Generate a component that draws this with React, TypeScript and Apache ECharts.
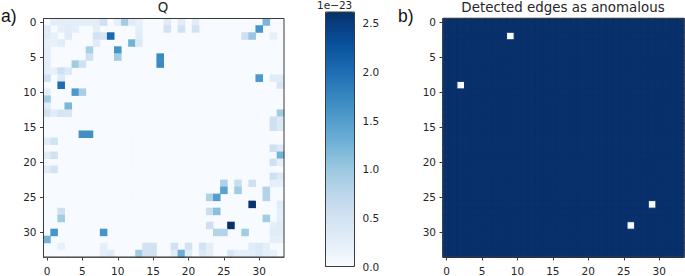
import React, { useEffect, useRef } from "react";
import * as echarts from "echarts";

const SIZE = 34;
const indices = Array.from({ length: SIZE }, (_, i) => String(i));
const colorbarTicks = [0, 0.5, 1, 1.5, 2, 2.5];
const colorbarMax = 2.615;
const blues = ["#f7fbff", "#deebf7", "#c6dbef", "#9ecae1", "#6baed6", "#4292c6", "#2171b5", "#08519c", "#08306b"];

// [row, [col, value, col, value, ...]]
const qRows: [number, number[]][] = [
  [0, [1, .28, 2, .28, 3, .28, 4, .28, 5, .28, 6, .28, 7, .28, 8, .55, 10, .25, 11, .95, 12, .3, 13, .2, 17, .3, 19, .3, 21, .3, 31, 1.2]],
  [1, [0, .3, 2, .25, 3, .3, 4, .25, 7, .25, 13, .25, 17, .5, 19, .5, 21, .5, 30, 1.6]],
  [2, [0, .3, 1, .2, 3, .3, 7, .5, 8, .45, 9, 2.05, 13, .3, 28, .55, 29, 1.0, 32, .22]],
  [3, [0, .2, 1, .2, 2, .3, 7, .3, 12, 1.25, 13, .35]],
  [4, [0, .25, 6, .9, 10, 1.6]],
  [5, [0, .25, 6, .55, 10, .95, 16, 1.7]],
  [6, [0, .25, 4, .95, 5, .55, 16, 1.7]],
  [7, [0, .25, 1, .2, 2, .55, 3, .35]],
  [8, [0, .55, 2, .35, 30, 1.55, 32, .3, 33, .3]],
  [9, [2, 2.0, 33, .4]],
  [10, [0, .25, 4, 1.55, 5, .9]],
  [11, [0, .95]],
  [12, [0, .3, 3, 1.2]],
  [13, [0, .5, 1, .3, 2, .45, 3, .4, 33, .95]],
  [14, [32, .55, 33, .35]],
  [15, [32, .55, 33, .35]],
  [16, [5, 1.65, 6, 1.65]],
  [17, [0, .3, 1, .5]],
  [18, [32, .55, 33, .35]],
  [19, [0, .3, 1, .5, 33, 1.25]],
  [20, [32, .55, 33, .2]],
  [21, [0, .3, 1, .5]],
  [22, [32, .55, 33, .35]],
  [23, [25, .85, 27, .6, 29, .55, 32, .25, 33, .25]],
  [24, [25, 1.45, 27, .95, 31, .8]],
  [25, [23, .85, 24, 1.5, 31, .8]],
  [26, [29, 2.6, 33, .3]],
  [27, [2, .55, 23, .6, 24, 1.1, 33, .25]],
  [28, [2, .95, 31, .95, 33, .25]],
  [29, [23, .55, 26, 2.6, 32, .25, 33, .3]],
  [30, [1, 1.6, 8, 1.6, 24, .8, 25, .8, 28, .95, 32, .3, 33, .3]],
  [31, [0, 1.25, 32, .22, 33, .22]],
  [32, [2, .2, 8, .25, 14, .5, 15, .5, 18, .5, 20, .5, 22, .5, 23, .25, 29, .3, 30, .35, 31, .25]],
  [33, [8, .25, 9, .3, 13, .95, 14, .5, 15, .5, 18, .3, 19, 1.3, 20, .3, 22, .35, 23, .25, 26, .4, 27, .25, 28, .25, 29, .25, 30, .35, 31, .25, 32, .2]],
];

// [row, col]
const anomalous: [number, number][] = [[2, 9], [9, 2], [26, 29], [29, 26]];

function buildQ() {
  const zeros: number[][] = [];
  const filled: number[][] = [];
  const m = new Map<string, number>();
  qRows.forEach(([r, cells]) => {
    for (let i = 0; i < cells.length; i += 2) m.set(r + "," + cells[i], cells[i + 1]);
  });
  for (let r = 0; r < SIZE; r++)
    for (let c = 0; c < SIZE; c++) {
      const v = m.get(r + "," + c);
      if (v === undefined) zeros.push([c, r, 0]);
      else filled.push([c, r, v]);
    }
  return [...zeros, ...filled];
}

function buildDetected() {
  const bg: number[][] = [];
  for (let r = 0; r < SIZE; r++)
    for (let c = 0; c < SIZE; c++) {
      if (!anomalous.some(([ar, ac]) => ar === r && ac === c)) bg.push([c, r, 0]);
    }
  return [...bg, ...anomalous.map(([r, c]) => [c, r, 1])];
}

const FONT = "DejaVu Sans";
const INK = "#262626";
const SPINE = "#3a3a3a";
const LABEL_SIZE = 10.5;

const catX = (gridIndex: number) => ({
  type: "category" as const,
  gridIndex,
  data: indices,
  position: "bottom" as const,
  splitLine: { show: false },
  axisLine: { show: true, onZero: false, lineStyle: { color: SPINE, width: 1 } },
  axisTick: { show: true, interval: 4, alignWithLabel: true, length: 3.5, lineStyle: { color: SPINE } },
  axisLabel: { interval: 4, margin: 8, fontFamily: FONT, fontSize: LABEL_SIZE, color: INK },
});

const catY = (gridIndex: number) => ({
  type: "category" as const,
  gridIndex,
  data: indices,
  inverse: true,
  position: "left" as const,
  splitLine: { show: false },
  axisLine: { show: true, onZero: false, lineStyle: { color: SPINE, width: 1 } },
  axisTick: { show: true, interval: 4, alignWithLabel: true, length: 3.5, lineStyle: { color: SPINE } },
  axisLabel: { interval: 4, margin: 7, fontFamily: FONT, fontSize: LABEL_SIZE, color: INK },
});

export default function App() {
  const ref = useRef<HTMLDivElement>(null);
  useEffect(() => {
    const chart = echarts.init(ref.current!, null, { renderer: "svg" });
    chart.setOption({
      animation: false,
      backgroundColor: "#ffffff",
      title: [
        { text: "Q", left: 163, top: 1, padding: 0, textAlign: "center", textStyle: { fontFamily: FONT, fontSize: 13.4, fontWeight: "normal", color: INK } },
        { text: "Detected edges as anomalous", left: 563, top: 1, padding: 0, textAlign: "center", textStyle: { fontFamily: FONT, fontSize: 13.4, fontWeight: "normal", color: INK } },
      ],
      grid: [
        { left: 43.5, top: 18.5, width: 240.5, height: 240, show: true, borderColor: SPINE, borderWidth: 1, backgroundColor: "transparent", z: 6 },
        { left: 443, top: 18.5, width: 241, height: 240, show: true, borderColor: SPINE, borderWidth: 1, backgroundColor: "transparent", z: 6 },
        { left: 325.5, top: 12, width: 29, height: 254.5, show: true, borderColor: SPINE, borderWidth: 1, backgroundColor: "transparent", z: 6 },
      ],
      xAxis: [
        catX(0),
        catX(1),
        { type: "value", gridIndex: 2, min: 0, max: 1, show: false },
      ],
      yAxis: [
        catY(0),
        catY(1),
        {
          type: "value",
          gridIndex: 2,
          min: 0,
          max: colorbarMax,
          position: "right",
          splitLine: { show: false },
          axisLine: { show: false },
          axisTick: { show: true, customValues: colorbarTicks, length: 3.5, lineStyle: { color: SPINE } },
          axisLabel: {
            customValues: colorbarTicks,
            margin: 8,
            fontFamily: FONT,
            fontSize: LABEL_SIZE,
            color: INK,
            formatter: (v: number) => v.toFixed(1),
          },
        },
      ],
      visualMap: [
        {
          type: "continuous",
          seriesIndex: 0,
          min: 0,
          max: colorbarMax,
          left: 325.5,
          top: 12,
          padding: 0,
          itemWidth: 29,
          itemHeight: 254.5,
          calculable: false,
          realtime: false,
          hoverLink: false,
          text: ["", ""],
          showLabel: false,
          inRange: { color: blues },
        },
        {
          type: "continuous",
          seriesIndex: 1,
          min: 0,
          max: 1,
          show: false,
          inRange: { color: ["#08306b", "#f7fbff"] },
        },
      ],
      series: [
        { type: "heatmap", xAxisIndex: 0, yAxisIndex: 0, data: buildQ(), itemStyle: { borderWidth: 0 } },
        { type: "heatmap", xAxisIndex: 1, yAxisIndex: 1, data: buildDetected(), itemStyle: { borderWidth: 1, borderColor: "#08306b" } },
      ],
      graphic: [
        { type: "text", x: 1, y: 7, style: { text: "a)", font: "17.5px 'Liberation Sans'", fill: "#111111" } },
        { type: "text", x: 398, y: 7, style: { text: "b)", font: "17.5px 'Liberation Sans'", fill: "#111111" } },
        { type: "text", x: 317, y: -1, style: { text: "1e\u221223", font: `10.5px '${FONT}'`, fill: INK } },
      ],
    });
    return () => chart.dispose();
  }, []);
  return <div ref={ref} style={{ position: "fixed", left: 0, top: 0, width: 685, height: 276 }} />;
}
